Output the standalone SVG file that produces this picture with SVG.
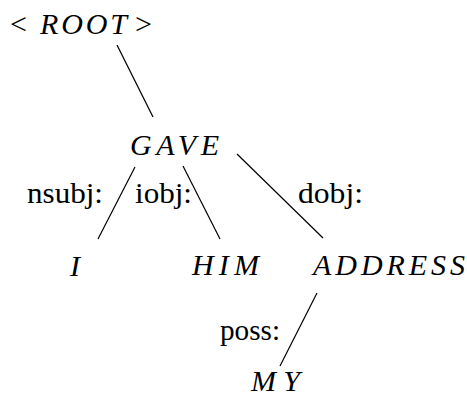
<svg xmlns="http://www.w3.org/2000/svg" width="467" height="398" viewBox="0 0 467 398">
<style>
  text { font-family: "Liberation Serif", "DejaVu Serif", "Times New Roman", serif; font-size: 30px; fill: #000; }
  .m { font-style: italic; }
  .edge { stroke: #000; stroke-width: 1.2; fill: none; stroke-linecap: butt; }
</style>
<rect width="467" height="398" fill="#fff"/>
<g id="connectors">
  <line class="edge" x1="117" y1="45" x2="153" y2="117"/>
  <line class="edge" x1="135" y1="167" x2="98" y2="239"/>
  <line class="edge" x1="183" y1="166" x2="220" y2="239"/>
  <line class="edge" x1="237" y1="154" x2="323" y2="238"/>
  <line class="edge" x1="317" y1="293" x2="280" y2="366"/>
  <text x="27" y="203" textLength="76" lengthAdjust="spacingAndGlyphs">nsubj:</text>
  <text x="135" y="203" textLength="57" lengthAdjust="spacingAndGlyphs">iobj:</text>
  <text x="298" y="203" textLength="65" lengthAdjust="spacingAndGlyphs">dobj:</text>
  <text x="220" y="340" textLength="60" lengthAdjust="spacingAndGlyphs">poss:</text>
</g>
<g id="node-root">
  <text x="10" y="34">&lt;</text>
  <text class="m" x="40" y="34" textLength="87" lengthAdjust="spacing">ROOT</text>
  <text x="135" y="34">&gt;</text>
</g>
<g id="node-gave">
  <text class="m" x="130" y="155" textLength="89" lengthAdjust="spacing">GAVE</text>
</g>
<g id="node-i">
  <text class="m" x="70" y="276">I</text>
</g>
<g id="node-him">
  <text class="m" x="192" y="275" textLength="67" lengthAdjust="spacing">HIM</text>
</g>
<g id="node-address">
  <text class="m" x="313" y="275" textLength="152" lengthAdjust="spacing">ADDRESS</text>
</g>
<g id="node-my">
  <text class="m" x="251" y="391" textLength="49" lengthAdjust="spacing">MY</text>
</g>
</svg>
